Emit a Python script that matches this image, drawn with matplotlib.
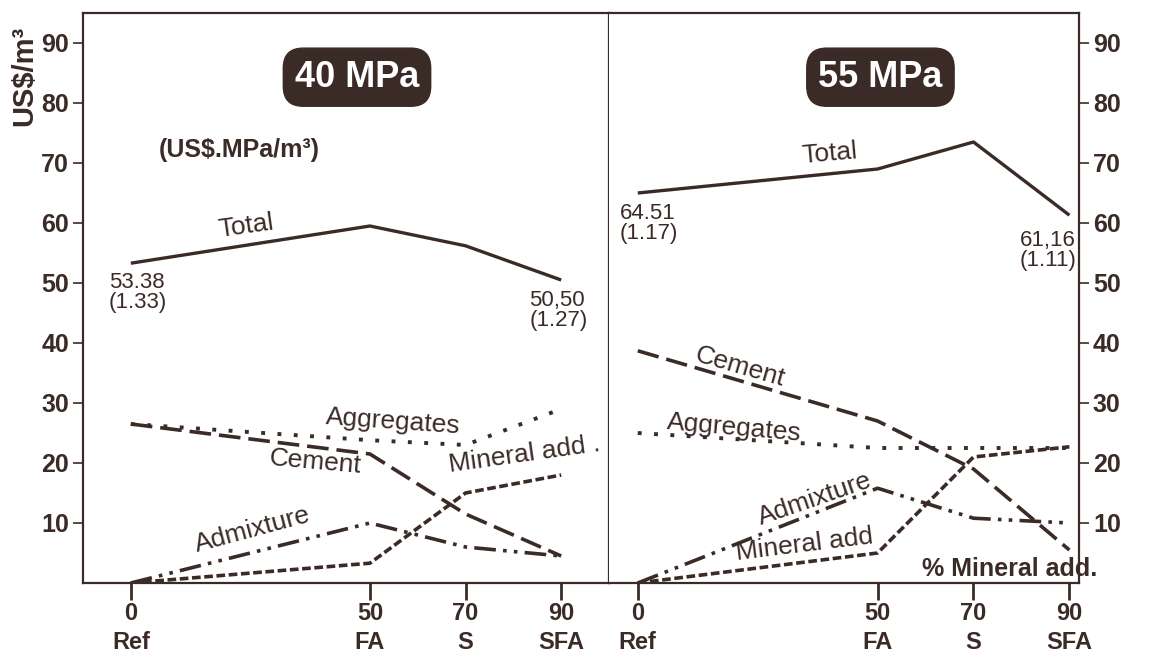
import matplotlib
matplotlib.use("Agg")
import matplotlib.pyplot as plt

plt.rcParams['font.family'] = ['Liberation Sans', 'DejaVu Sans']

ink = '#3b2b26'

x = [0, 50, 70, 90]
tick_labels = ['0\nRef', '50\nFA', '70\nS', '90\nSFA']
yticks = [10, 20, 30, 40, 50, 60, 70, 80, 90]

# 40 MPa
total_40 = [53.3, 59.5, 56.2, 50.5]
aggr_40 = [26.5, 23.8, 23.0, 29.0]
cement_40 = [26.5, 21.5, 11.5, 4.5]
mineral_40 = [0.0, 3.3, 15.0, 18.0]
admix_40 = [0.0, 10.0, 6.0, 4.5]

# 55 MPa
total_55 = [65.0, 69.0, 73.5, 61.3]
aggr_55 = [25.0, 22.5, 22.5, 22.5]
cement_55 = [38.7, 27.0, 19.0, 5.5]
mineral_55 = [0.0, 5.0, 21.0, 22.7]
admix_55 = [0.0, 15.8, 10.8, 10.0]

styles = {
    'total': dict(ls='-', lw=2.4),
    'aggr': dict(ls=(0, (1.0, 3.2)), lw=2.8),
    'cement': dict(ls=(0, (6, 2.2)), lw=2.6),
    'mineral': dict(ls=(0, (2.4, 1.0)), lw=2.6),
    'admix': dict(ls=(0, (6, 2, 1, 2, 1, 2)), lw=2.6),
}

fig = plt.figure(figsize=(11.68, 6.55), dpi=100)
axL = fig.add_axes([83/1168, 72/655, 526/1168, 570/655])
axR = fig.add_axes([609/1168, 72/655, 470/1168, 570/655])


def draw(ax, total, aggr, cement, mineral, admix):
    for key, vals in [('total', total), ('aggr', aggr), ('cement', cement),
                      ('mineral', mineral), ('admix', admix)]:
        ax.plot(x, vals, color=ink, solid_capstyle='butt', dash_capstyle='butt', **styles[key])
    ax.set_ylim(0, 95)
    ax.set_xticks(x)
    ax.set_xticklabels(tick_labels, fontsize=17, fontweight='bold', color=ink, linespacing=1.3)
    ax.set_yticks(yticks)
    ax.tick_params(axis='x', length=12, width=2, color=ink, pad=2)
    ax.tick_params(axis='y', length=7, width=1.2, color=ink, labelsize=18, labelcolor=ink, pad=3)
    for lab in ax.get_yticklabels():
        lab.set_fontweight('bold')
    for s in ax.spines.values():
        s.set_color(ink)
        s.set_linewidth(1.6)


draw(axL, total_40, aggr_40, cement_40, mineral_40, admix_40)
draw(axR, total_55, aggr_55, cement_55, mineral_55, admix_55)
axL.set_xlim(-10, 100)
axR.set_xlim(-6, 92)
axR.yaxis.tick_right()
axR.spines['left'].set_visible(False)
for lab in axR.get_yticklabels():
    lab.set_fontweight('bold')

lbl = dict(color=ink, fontsize=19, ha='center', va='center')
num = dict(color=ink, fontsize=16, ha='left', va='top', linespacing=0.95)
axL.text(24, 59.5, 'Total', rotation=8, **lbl)
axL.text(54.8, 26.8, 'Aggregates', rotation=-4, **lbl)
axL.text(38.5, 20.2, 'Cement', rotation=-5, **lbl)
axL.text(82.3, 21.5, 'Mineral add .', rotation=8, **lbl)
axL.text(25.4, 8.9, 'Admixture', rotation=15, **lbl)
axL.text(-4.6, 51.8, '53.38\n(1.33)', **num)
axL.text(83.3, 48.8, '50,50\n(1.27)', **num)
axL.text(5.8, 72.2, '(US$.MPa/m³)', color=ink, fontsize=18, fontweight='bold', ha='left', va='center')

axR.text(40, 71.6, 'Total', rotation=5, **lbl)
axR.text(21.3, 36.0, 'Cement', rotation=-16, **lbl)
axR.text(20.2, 25.8, 'Aggregates', rotation=-5, **lbl)
axR.text(36.9, 14.0, 'Admixture', rotation=19, **lbl)
axR.text(34.8, 6.4, 'Mineral add', rotation=7, **lbl)
axR.text(77.5, 2.4, '% Mineral add.', color=ink, fontsize=18, fontweight='bold', ha='center', va='center')
axR.text(-3.8, 63.4, '64.51\n(1.17)', **num)
axR.text(79.6, 58.8, '61,16\n(1.11)', **num)

box = dict(boxstyle='round,pad=0.32,rounding_size=0.55', fc=ink, ec=ink)
axL.text(47.3, 84.3, '40 MPa', color='white', fontsize=26, fontweight='bold',
         ha='center', va='center', bbox=box)
axR.text(50.6, 84.3, '55 MPa', color='white', fontsize=26, fontweight='bold',
         ha='center', va='center', bbox=box)

fig.text(24/1168, 1 - 76/655, 'US$/m³', rotation=90, color=ink, fontsize=21,
         fontweight='bold', ha='center', va='center')

fig.savefig('out.png', dpi=100)
